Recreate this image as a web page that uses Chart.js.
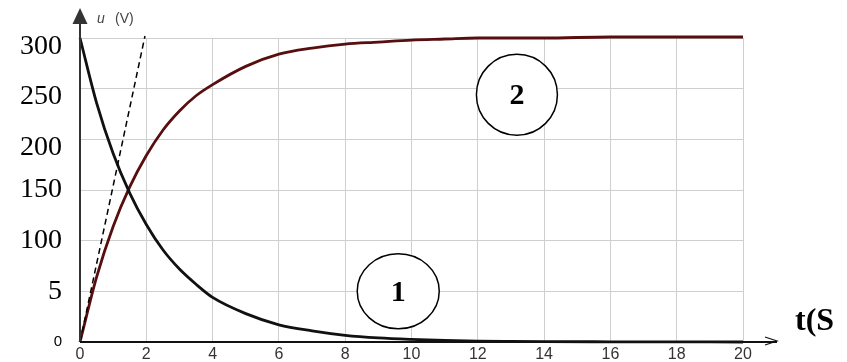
<!DOCTYPE html>
<html>
<head>
<meta charset="utf-8">
<script src="https://cdn.jsdelivr.net/npm/chart.js@4"></script>
<style>
  html, body { margin: 0; padding: 0; background: #fff; }
  #wrap { width: 847px; height: 362px; }
</style>
</head>
<body>
<div id="wrap"><canvas id="rcChart" width="847" height="362"></canvas></div>
<script>
// time samples (s) and the two capacitor voltages (V)
const timeS = [0, 0.5, 1, 1.5, 2, 2.5, 3, 3.5, 4, 5, 6, 7, 8, 9, 10, 11, 12, 13, 14, 16, 18, 20];
const uDischarge = [300, 236, 186, 147, 116, 91, 72, 57, 44, 28, 17, 11, 6.6, 4, 2.5, 1.5, 0.9, 0.6, 0.4, 0.2, 0.1, 0];
const uCharge = [0, 64, 114, 153, 184, 209, 228, 243, 254, 272, 284, 290, 294, 296, 298, 299, 300, 300, 300, 301, 301, 301];

// tangent at the origin
const tangentT = [0, 1.96];
const tangentU = [0, 302];

const xTickValues = [0, 2, 4, 6, 8, 10, 12, 14, 16, 18, 20];
const yTickValues = [0, 50, 100, 150, 200, 250, 300];
const yTickLabels = ['0', '5', '100', '150', '200', '250', '300'];

const toPoints = (xs, ys) => xs.map((x, i) => ({ x: x, y: ys[i] }));

const decorations = {
  id: 'decorations',
  afterDatasetsDraw(chart) {
    const { ctx, scales: { x, y } } = chart;
    const x0 = x.getPixelForValue(0);
    const y0 = y.getPixelForValue(0);
    ctx.save();

    // vertical axis with filled arrow
    ctx.strokeStyle = '#333';
    ctx.fillStyle = '#333';
    ctx.lineWidth = 2;
    ctx.beginPath();
    ctx.moveTo(x0, y0);
    ctx.lineTo(x0, 22);
    ctx.stroke();
    ctx.beginPath();
    ctx.moveTo(x0 - 7.5, 24);
    ctx.lineTo(x0, 8);
    ctx.lineTo(x0 + 7.5, 24);
    ctx.closePath();
    ctx.fill();

    // horizontal axis with open arrow
    ctx.strokeStyle = '#111';
    ctx.beginPath();
    ctx.moveTo(x0, y0);
    ctx.lineTo(x.right + 34, y0);
    ctx.stroke();
    ctx.lineWidth = 1.2;
    ctx.beginPath();
    ctx.moveTo(x.right + 22, y0 - 5);
    ctx.lineTo(x.right + 34, y0 - 1);
    ctx.lineTo(x.right + 22, y0 + 3);
    ctx.stroke();

    // axis titles
    ctx.fillStyle = '#444';
    ctx.textBaseline = 'middle';
    ctx.textAlign = 'left';
    ctx.font = 'italic 14px "Liberation Sans"';
    ctx.fillText('u', x0 + 17, 19);
    ctx.font = '14px "Liberation Sans"';
    ctx.fillText('(V)', x0 + 35, 19);

    ctx.fillStyle = '#000';
    ctx.font = 'bold 32px "Liberation Serif"';
    ctx.fillText('t(S', x.right + 52, 322);

    // curve tags
    const tags = [
      { text: '1', t: 9.6, u: 50, rx: 41, ry: 37.5 },
      { text: '2', t: 13.18, u: 244, rx: 40.5, ry: 40.5 }
    ];
    ctx.strokeStyle = '#000';
    ctx.lineWidth = 1.5;
    ctx.textAlign = 'center';
    ctx.font = 'bold 30px "Liberation Serif"';
    tags.forEach(tag => {
      const cx = x.getPixelForValue(tag.t);
      const cy = y.getPixelForValue(tag.u);
      ctx.fillStyle = '#fff';
      ctx.beginPath();
      ctx.ellipse(cx, cy, tag.rx, tag.ry, 0, 0, Math.PI * 2);
      ctx.fill();
      ctx.stroke();
      ctx.fillStyle = '#000';
      ctx.fillText(tag.text, cx, cy + 2);
    });

    ctx.restore();
  }
};

new Chart(document.getElementById('rcChart'), {
  type: 'line',
  data: {
    datasets: [
      {
        label: 'tangent',
        data: toPoints(tangentT, tangentU),
        borderColor: '#000',
        borderWidth: 1.5,
        borderDash: [6, 4],
        pointRadius: 0,
        clip: 6
      },
      {
        label: '1',
        data: toPoints(timeS, uDischarge),
        borderColor: '#111',
        borderWidth: 2.8,
        pointRadius: 0,
        cubicInterpolationMode: 'monotone',
        clip: 6
      },
      {
        label: '2',
        data: toPoints(timeS, uCharge),
        borderColor: '#580e0e',
        borderWidth: 2.8,
        pointRadius: 0,
        cubicInterpolationMode: 'monotone',
        clip: 6
      }
    ]
  },
  options: {
    responsive: false,
    animation: false,
    layout: { padding: { top: 38, right: 104, left: 0, bottom: 0 } },
    plugins: {
      legend: { display: false },
      tooltip: { enabled: false }
    },
    scales: {
      x: {
        type: 'linear',
        min: 0,
        max: 20,
        afterBuildTicks: s => { s.ticks = xTickValues.map(v => ({ value: v })); },
        afterFit: s => { s.height = 20; s.paddingLeft = 0; s.paddingRight = 0; },
        border: { display: false },
        grid: { color: '#cfcfcf', lineWidth: 1, drawTicks: false },
        ticks: {
          padding: 3,
          color: '#333',
          maxRotation: 0,
          autoSkip: false,
          font: { family: 'Liberation Sans', size: 16 }
        }
      },
      y: {
        type: 'linear',
        min: 0,
        max: 300,
        afterBuildTicks: s => { s.ticks = yTickValues.map(v => ({ value: v })); },
        afterFit: s => { s.width = 80; s.paddingTop = 0; s.paddingBottom = 0; },
        border: { display: false },
        grid: { color: '#cfcfcf', lineWidth: 1, drawTicks: false },
        ticks: {
          padding: 18,
          color: '#000',
          font: c => (c.index === 0
            ? { family: 'Liberation Sans', size: 15 }
            : c.index >= 4
              ? { family: 'Liberation Serif', size: 28, lineHeight: 0.6 }
              : { family: 'Liberation Serif', size: 28 }),
          // upper labels sit a little below their grid line
          callback: v => {
            const label = yTickLabels[yTickValues.indexOf(v)];
            return v >= 200 ? ['', label] : label;
          }
        }
      }
    }
  },
  plugins: [decorations]
});
</script>
</body>
</html>
